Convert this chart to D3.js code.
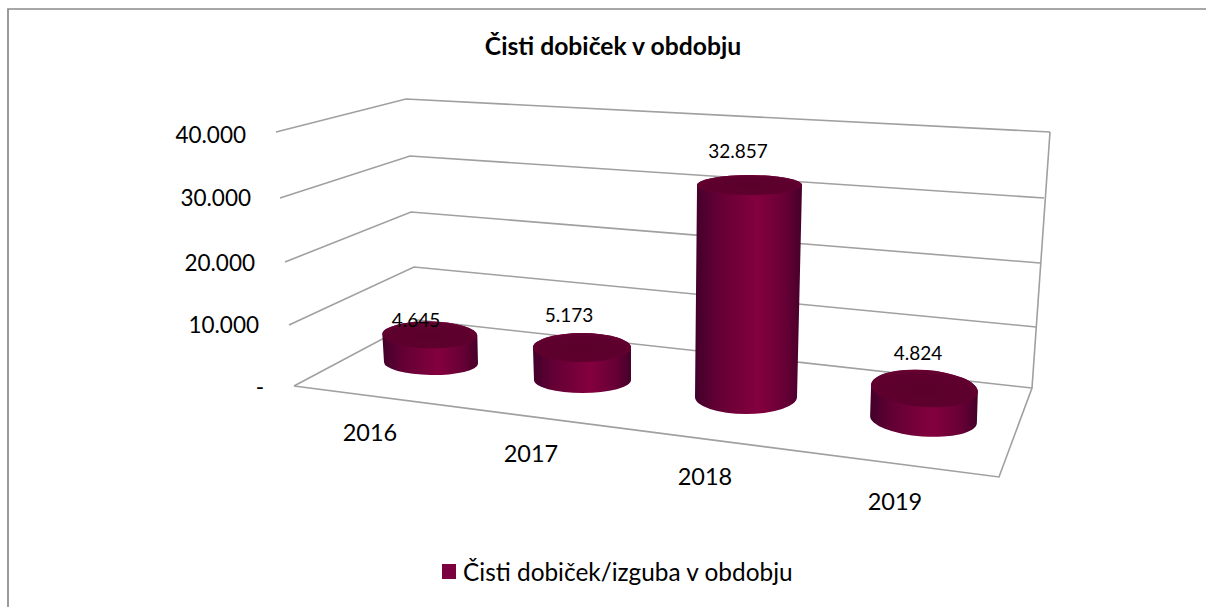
<!DOCTYPE html>
<html><head><meta charset="utf-8">
<script src="https://cdn.jsdelivr.net/npm/d3@7/dist/d3.min.js"></script>
<style>html,body{margin:0;padding:0;background:#fff}svg{display:block}text{font-family:Lato,"Liberation Sans",sans-serif;fill:#000}</style>
</head><body><div id="c"></div>
<script>
const title = "Čisti dobiček v obdobju";
const seriesName = "Čisti dobiček/izguba v obdobju";
const categories = ["2016","2017","2018","2019"];
const values = [4645,5173,32857,4824];
const valueLabels = ["4.645","5.173","32.857","4.824"];
const ticks = [0,10000,20000,30000,40000];
const tickLabels = ["-","10.000","20.000","30.000","40.000"];

const W=1206,H=607;
const svg=d3.select("#c").append("svg").attr("width",W).attr("height",H);
const defs=svg.append("defs");
const grad=defs.append("linearGradient").attr("id","side").attr("x1",0).attr("x2",1).attr("y1",0).attr("y2",0);
[[0,"#42002a"],[.2,"#620034"],[.58,"#84003f"],[.85,"#660035"],[1,"#45002a"]].forEach(s=>grad.append("stop").attr("offset",s[0]).attr("stop-color",s[1]));
const lid=defs.append("radialGradient").attr("id","lid").attr("cx",.5).attr("cy",.55).attr("r",.55);
[[0,"#5a002b"],[.8,"#5e002d"],[1,"#680033"]].forEach(s=>lid.append("stop").attr("offset",s[0]).attr("stop-color",s[1]));

// chart frame
svg.append("path").attr("d",`M8,${H}V9H${W}`).attr("fill","none").attr("stroke","#8a8a8a").attr("stroke-width",1.7);

// perspective wall corners, by tick
const frontX=d3.scaleOrdinal().domain(ticks).range([294,289,285,280,276]);
const frontY=d3.scaleOrdinal().domain(ticks).range([386,325,262,198,132]);
const backX=d3.scaleOrdinal().domain(ticks).range([418,414,411,410,406]);
const backY=d3.scaleOrdinal().domain(ticks).range([320,267,212,156,99]);
const rightX=d3.scaleOrdinal().domain(ticks).range([1032,1036,1040,1044,1050]);
const rightY=d3.scaleOrdinal().domain(ticks).range([388,327,263,198,132]);
const grid="#a0a0a0";
const line=d3.line();
ticks.forEach(t=>{
  svg.append("path").attr("d",line([[frontX(t),frontY(t)],[backX(t),backY(t)],[rightX(t),rightY(t)]]))
    .attr("fill","none").attr("stroke",grid).attr("stroke-width",1.6);
});
// right wall edge and floor
svg.append("path").attr("d",line([[rightX(40000),rightY(40000)],[rightX(0),rightY(0)],[999,477],[frontX(0),frontY(0)]]))
  .attr("fill","none").attr("stroke",grid).attr("stroke-width",1.6);

// y tick labels
svg.selectAll("text.yt").data(ticks).join("text").attr("class","yt")
  .attr("x",(t,i)=>[264,259,255,251,246][i])
  .attr("y",(t,i)=>[395,333,271,206,143][i])
  .attr("text-anchor","end").attr("font-size",22.5).text((t,i)=>tickLabels[i]);

// category labels
svg.selectAll("text.xt").data(categories).join("text").attr("class","xt")
  .attr("x",(c,i)=>[370,531,705,895][i]).attr("y",(c,i)=>[441,462,485,510][i])
  .attr("text-anchor","middle").attr("font-size",23.5).text(c=>c);

// cylinders
const baseX=d3.scaleOrdinal().domain(categories).range([431,582.5,746,923.5]);
const baseY=d3.scaleOrdinal().domain(categories).range([363,380,397,419.5]);
const span=d3.scaleOrdinal().domain(categories).range([241,251,258,257]); // px of the full 40.000 range at that depth
const lean=d3.scaleOrdinal().domain(categories).range([-10,-4,4.3,8]);    // px of x drift over the full range
const rxBase=d3.scaleOrdinal().domain(categories).range([47,48.5,51,53.5]);
const rxTop=d3.scaleOrdinal().domain(categories).range([47.5,49,52.5,53.5]);
const ryBase=d3.scaleOrdinal().domain(categories).range([12,13,17,17]);
const ryTop=d3.scaleOrdinal().domain(categories).range([13.5,14.5,10,18.5]);
const tilt=d3.scaleOrdinal().domain(categories).range([1,0,0,4]);
categories.forEach((c,i)=>{
  const v=values[i];
  const y=d3.scaleLinear().domain([0,40000]).range([baseY(c),baseY(c)-span(c)]);
  const x=d3.scaleLinear().domain([0,40000]).range([baseX(c),baseX(c)+lean(c)]);
  const bx=x(0),by=y(0),tx=x(v),ty=y(v);
  const rb=rxBase(c),rt=rxTop(c),a=tilt(c)*Math.PI/180;
  const ca=Math.cos(a),sa=Math.sin(a);
  const d=`M${tx-rt*ca},${ty-rt*sa}L${bx-rb*ca},${by-rb*sa}`+
    `A${rb},${ryBase(c)} ${tilt(c)} 0 0 ${bx+rb*ca},${by+rb*sa}`+
    `L${tx+rt*ca},${ty+rt*sa}`+
    `A${rt},${ryTop(c)} ${tilt(c)} 0 0 ${tx-rt*ca},${ty-rt*sa}Z`;
  svg.append("path").attr("d",d).attr("fill","url(#side)");
  svg.append("ellipse").attr("rx",rt).attr("ry",ryTop(c))
    .attr("transform",`translate(${tx},${ty}) rotate(${tilt(c)})`).attr("fill","url(#lid)");
  svg.append("text").attr("x",[416,569,738,918][i]).attr("y",[327,322,158,360][i])
    .attr("text-anchor","middle").attr("font-size",19).text(valueLabels[i]);
});

// title
svg.append("text").attr("x",613).attr("y",55).attr("text-anchor","middle").attr("font-size",24.7).attr("font-weight",700).text(title);
// legend
svg.append("rect").attr("x",442).attr("y",564).attr("width",14).attr("height",15).attr("fill","#7b0040");
svg.append("text").attr("x",463).attr("y",581).attr("font-size",24.4).text(seriesName);
</script></body></html>
